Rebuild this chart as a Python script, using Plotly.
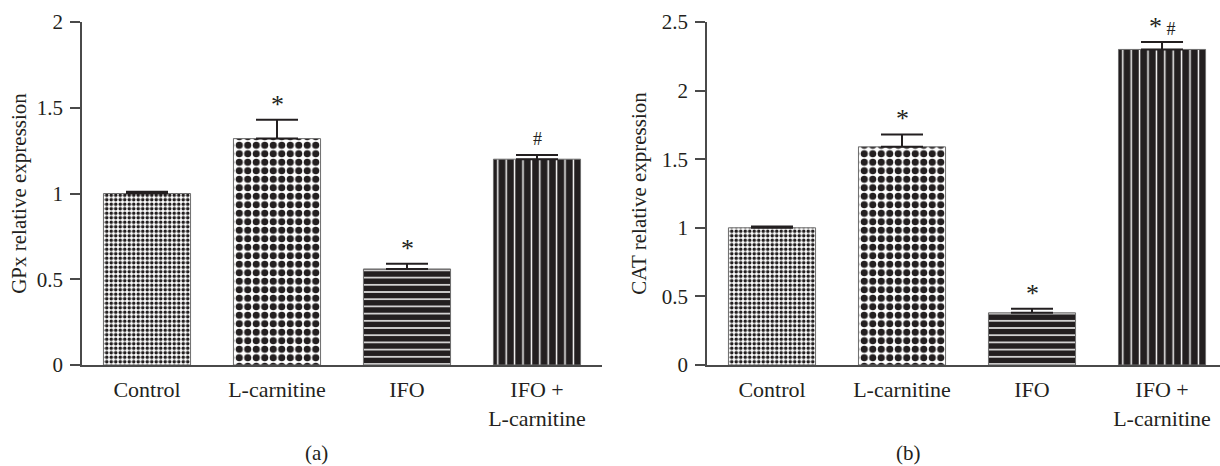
import plotly.graph_objects as go

categories = ["Control", "L-carnitine", "IFO", "IFO +<br>L-carnitine"]

gpx_values = [1.00, 1.32, 0.56, 1.20]
gpx_errors = [0.01, 0.11, 0.03, 0.025]
gpx_marks = ["", "*", "*", "#"]

cat_values = [1.00, 1.59, 0.38, 2.30]
cat_errors = [0.01, 0.09, 0.03, 0.055]
cat_marks = ["", "*", "*", "*#"]

panel_labels = ["(a)", "(b)"]

W, H = 1220, 466
FONT = "Liberation Serif"
INK = "#231f20"
AXIS = "#4a4a4a"

patterns = [
    dict(shape=".", size=4.5, solidity=0.5, fgcolor=INK, bgcolor="white", fillmode="replace"),
    dict(shape=".", size=8.5, solidity=0.55, fgcolor=INK, bgcolor="white", fillmode="replace"),
    dict(shape="-", size=7.2, solidity=0.2, fgcolor="white", bgcolor=INK, fillmode="replace"),
    dict(shape="|", size=8.4, solidity=0.17, fgcolor="white", bgcolor=INK, fillmode="replace"),
]

fig = go.Figure()

def add_panel(values, errors, xa, ya):
    for i, cat in enumerate(categories):
        fig.add_trace(go.Bar(
            x=[cat], y=[values[i]], width=0.67,
            marker=dict(color=INK if i >= 2 else "white", pattern=patterns[i],
                        line=dict(color="#6e6e6e", width=1)),
            error_y=dict(type="data", symmetric=False, array=[errors[i]], arrayminus=[0],
                         color=INK, thickness=2, width=21),
            xaxis=xa, yaxis=ya, showlegend=False, hoverinfo="skip",
        ))

add_panel(gpx_values, gpx_errors, "x", "y")
add_panel(cat_values, cat_errors, "x2", "y2")


def fmt_mark(m):
    out = ""
    for c in m:
        if c == "#":
            pre = " " if out else ""
            out += "<span style='font-size:18px'>" + pre + c + "</span>"
        else:
            out += c
    return out


annotations = []
for xref, yref, vals, errs, marks in [("x", "y", gpx_values, gpx_errors, gpx_marks),
                                        ("x2", "y2", cat_values, cat_errors, cat_marks)]:
    for i, m in enumerate(marks):
        if not m:
            continue
        size = 18 if m == "#" else 26
        annotations.append(dict(
            x=categories[i], y=vals[i] + errs[i], xref=xref, yref=yref,
            text=fmt_mark(m), showarrow=False, yanchor="bottom",
            yshift=-1 if m != "#" else 4,
            font=dict(family=FONT, size=size, color=INK),
        ))

annotations.append(dict(x=303 / W, y=1 - 453 / H, xref="paper", yref="paper", text=panel_labels[0],
                        showarrow=False, yanchor="middle",
                        font=dict(family=FONT, size=21, color=INK)))
annotations.append(dict(x=923 / W, y=1 - 453 / H, xref="paper", yref="paper", text=panel_labels[1],
                        showarrow=False, yanchor="middle",
                        font=dict(family=FONT, size=21, color=INK)))

ydom = [1 - 365 / H, 1 - 22 / H]
common_x = dict(type="category", showline=True, linecolor=AXIS, linewidth=1.5, ticks="",
                showgrid=False, zeroline=False, tickfont=dict(family=FONT, size=22, color=INK),
                ticklabelstandoff=4, automargin=False)
common_y = dict(showline=True, linecolor=AXIS, linewidth=1.5, ticks="outside", ticklen=10,
                tickcolor=AXIS, tickwidth=1.5, showgrid=False, zeroline=False, dtick=0.5,
                tickfont=dict(family=FONT, size=21, color=INK), ticklabelstandoff=3,
                automargin=False)

fig.update_layout(
    width=W, height=H, autosize=False,
    margin=dict(l=0, r=0, t=0, b=0, pad=0, autoexpand=False),
    paper_bgcolor="white", plot_bgcolor="white",
    barmode="overlay",
    xaxis=dict(common_x, domain=[82 / W, 602 / W], range=[-0.5, 3.5], anchor="y"),
    yaxis=dict(common_y, domain=ydom, range=[0, 2], anchor="x",
               title=dict(text="GPx relative expression", standoff=4,
                          font=dict(family=FONT, size=21, color=INK))),
    xaxis2=dict(common_x, domain=[707 / W, 1.0], range=[-0.5, 3.446], anchor="y2"),
    yaxis2=dict(common_y, domain=ydom, range=[0, 2.5], anchor="x2",
                title=dict(text="CAT relative expression", standoff=9,
                           font=dict(family=FONT, size=21, color=INK))),
    annotations=annotations,
)

fig.write_html("out.html",
               config={"displayModeBar": False, "responsive": False},
               post_script="document.body.style.margin='0';document.body.style.overflow='hidden';")
